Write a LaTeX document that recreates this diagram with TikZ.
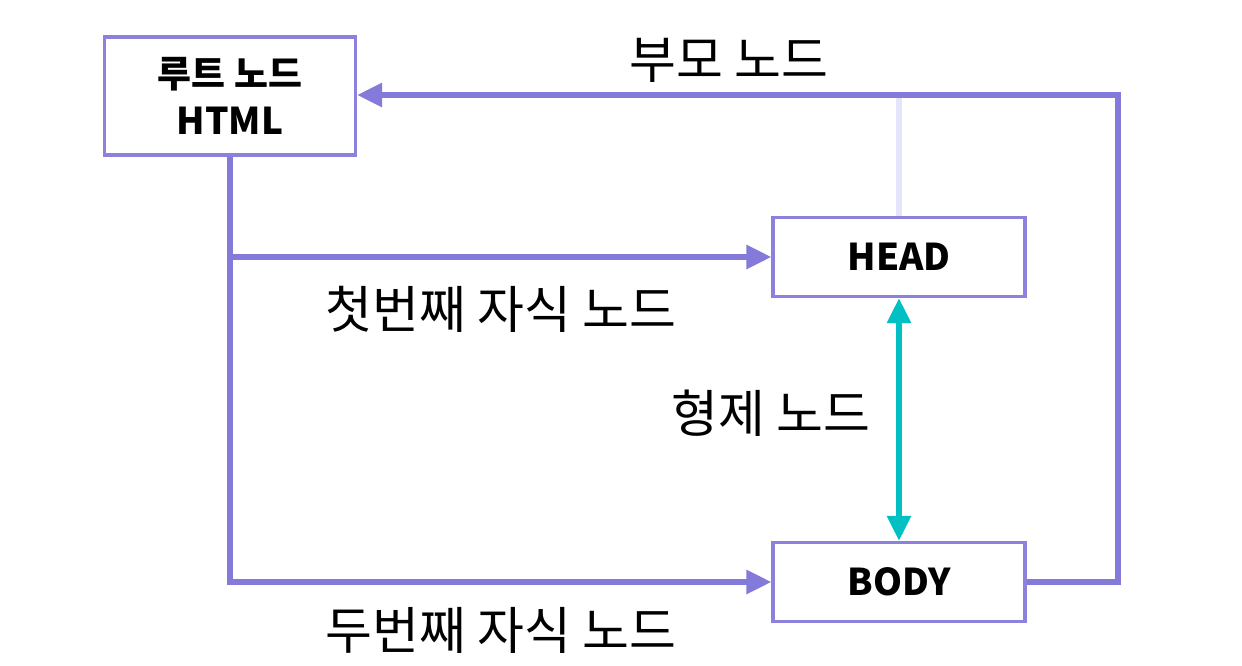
\documentclass[tikz,border=0pt]{standalone}
\usepackage{fontspec}
\setmainfont{Noto Sans CJK KR}
\usetikzlibrary{arrows.meta, positioning}
\definecolor{purp}{RGB}{132,122,218}
\definecolor{boxline}{RGB}{140,130,222}
\definecolor{faintline}{RGB}{228,228,250}
\definecolor{sibteal}{RGB}{0,192,196}

\begin{document}
\begin{tikzpicture}[x=0.02cm, y=-0.02cm, thick,
    box/.style={draw=boxline, line width=1.8pt, fill=white, align=center, inner sep=0pt,
        font=\fontsize{21}{27}\selectfont\bfseries},
    link/.style={draw=purp, line width=3.3pt},
    tip/.style={-{Triangle[length=0.5cm, width=0.46cm]}},
    lbl/.style={font=\fontsize{29}{34}\selectfont}]
            \useasboundingbox (0,0) rectangle (1242,666);
            \coordinate (rt) at (1118,95);
            \node[box, minimum width=5.02cm, minimum height=2.36cm] (root) at (230,96) {루트 노드\\HTML};
            \node[box, minimum width=5.04cm, minimum height=1.58cm] (head) at (899,257) {HEAD};
            \node[box, minimum width=5.04cm, minimum height=1.58cm] (body) at (899,582) {BODY};
            \draw[draw=faintline, line width=3pt] (head.north) -- (head.north |- rt);
            \draw[link, tip] (root.south) |- (body.west);
            \draw[link, tip] (root.south |- head.west) -- (head.west);
            \draw[link, tip] (body.east) -| (rt) -- (root.east |- rt);
            \draw[draw=sibteal, line width=3.3pt, {Triangle[length=0.5cm, width=0.46cm]}-{Triangle[length=0.5cm, width=0.46cm]}] (head.south) -- (body.north);
            \node[lbl] (parent) at (729,60) {부모 노드};
            \node[lbl] (first) at (501,309) {첫번째 자식 노드};
            \node[lbl] (sibling) at (771,413) {형제 노드};
            \node[lbl] (second) at (501,630) {두번째 자식 노드};
        \end{tikzpicture}
\end{document}
